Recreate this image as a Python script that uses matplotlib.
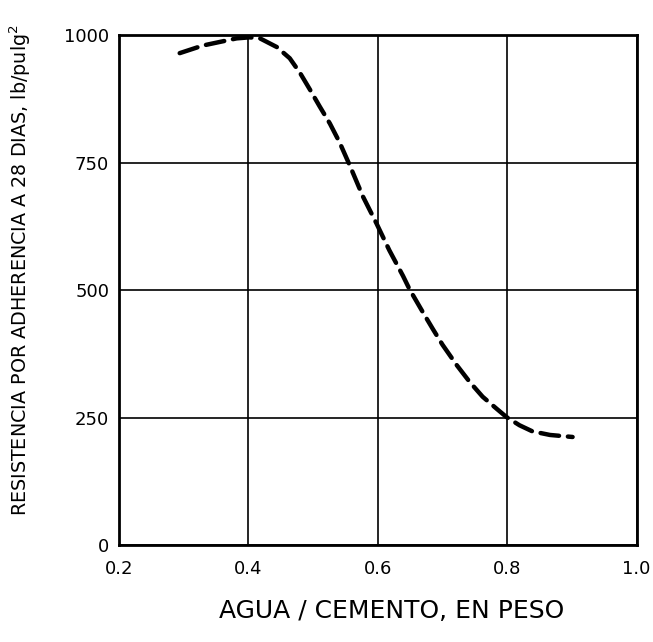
import matplotlib
matplotlib.use("Agg")
import matplotlib.pyplot as plt

# water/cement ratio vs 28-day bond strength
agua_cemento = [0.294, 0.330, 0.356, 0.382, 0.402, 0.418, 0.444, 0.464, 0.480,
                0.495, 0.510, 0.526, 0.541, 0.557, 0.577, 0.598, 0.618, 0.639,
                0.649, 0.670, 0.685, 0.700, 0.722, 0.742, 0.762, 0.784, 0.799,
                0.819, 0.839, 0.866, 0.901]
resistencia = [965, 980, 987, 994, 996, 994, 977, 955, 926,
               894, 861, 827, 790, 744, 684, 631, 578, 528,
               502, 456, 424, 393, 353, 320, 291, 267, 251,
               235, 223, 216, 212]

x_ticks = [0.2, 0.4, 0.6, 0.8, 1.0]
x_labels = ["0.2", "0.4", "0.6", "0.8", "1.0"]
y_ticks = [0, 250, 500, 750, 1000]
y_labels = ["0", "250", "500", "750", "1000"]

plt.rcParams["font.family"] = ["DejaVu Sans"]

fig = plt.figure(figsize=(6.53, 6.42), dpi=100)
ax = fig.add_axes([0.182, 0.151, 0.793, 0.794])

ax.plot(agua_cemento, resistencia, color="black", lw=3.2,
        linestyle=(0, (4.2, 2.0)), solid_capstyle="round", dash_capstyle="round")

ax.set_xlim(0.2, 1.0)
ax.set_ylim(0, 1000)
ax.set_xticks(x_ticks)
ax.set_xticklabels(x_labels)
ax.set_yticks(y_ticks)
ax.set_yticklabels(y_labels)
ax.grid(True, color="black", lw=1.2)
ax.tick_params(axis="x", length=0, pad=11, labelsize=13)
ax.tick_params(axis="y", length=0, pad=7, labelsize=13)
for side in ax.spines.values():
    side.set_linewidth(2.0)

ax.set_xlabel("AGUA / CEMENTO, EN PESO", fontsize=18)
ax.xaxis.set_label_coords(0.527, -0.105)
ax.set_ylabel("RESISTENCIA POR ADHERENCIA A 28 DIAS, lb/pulg$^2$", fontsize=13.8)
ax.yaxis.set_label_coords(-0.165, 0.54)

fig.savefig("out.png", dpi=100)
plt.close(fig)
